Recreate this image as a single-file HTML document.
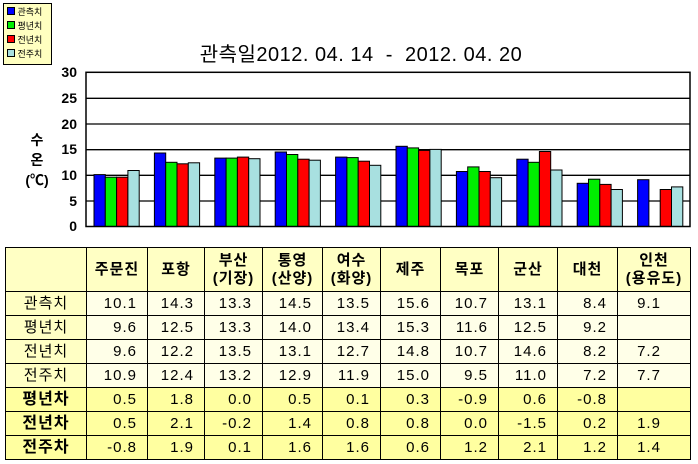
<!DOCTYPE html>
<html><head><meta charset="utf-8"><style>
body{margin:0;width:698px;height:464px;background:#fff;position:relative;overflow:hidden;font-family:"Liberation Sans","Noto Sans CJK KR","NanumGothic",sans-serif}
.abs{position:absolute}
table{position:absolute;left:5px;top:247px;border-collapse:collapse;table-layout:fixed;width:685px}
td{border:1px solid #000;height:24px;line-height:18px;padding:0;font-size:15px;text-align:right;padding-right:10px;letter-spacing:1px;background:#FFFFE8;white-space:nowrap;box-sizing:border-box}
tr.h td{height:44px;background:#FFFFC4;text-align:center;padding:0;font-weight:bold;font-size:15px;line-height:18px}
td.l{background:#FFFFC4;text-align:center;padding:0}
tr.y td{background:#FFFFA0}
tr.y td.l{font-weight:bold;font-size:16px}
</style></head><body>
<div class="abs" style="left:3px;top:3px;width:47px;height:59px;background:#FFFFC0;border:1px solid #000;font-size:9px;line-height:14px;padding-top:1px">
<div style="padding-left:3px"><span style="display:inline-block;width:6px;height:6px;background:#0000ff;border:1px solid #000"></span> 관측치</div>
<div style="padding-left:3px"><span style="display:inline-block;width:6px;height:6px;background:#00ee00;border:1px solid #000"></span> 평년치</div>
<div style="padding-left:3px"><span style="display:inline-block;width:6px;height:6px;background:#ff0000;border:1px solid #000"></span> 전년치</div>
<div style="padding-left:3px"><span style="display:inline-block;width:6px;height:6px;background:#a8e0e0;border:1px solid #000"></span> 전주치</div>
</div>
<div class="abs" style="left:0;width:698px;top:38px;text-align:center;font-size:20px;padding-left:12px;letter-spacing:0.5px">관측일2012. 04. 14 &nbsp;- &nbsp;2012. 04. 20</div>
<div class="abs" style="left:22px;top:130px;width:30px;text-align:center;font-size:14px;font-weight:bold;line-height:20px">수<br>온<br>(℃)</div>
<svg class="abs" style="left:0;top:0" width="698" height="240">
<g font-family="Liberation Sans" font-weight="bold" font-size="14" text-anchor="end">
<text x="77" y="77">30</text><text x="77" y="103">25</text><text x="77" y="129">20</text><text x="77" y="154">15</text><text x="77" y="180">10</text><text x="77" y="206">5</text><text x="77" y="231">0</text>
</g>
<g stroke="#000" stroke-width="1.3">
<line x1="86" y1="98.3" x2="690" y2="98.3"/><line x1="86" y1="124" x2="690" y2="124"/><line x1="86" y1="149.7" x2="690" y2="149.7"/><line x1="86" y1="175.3" x2="690" y2="175.3"/><line x1="86" y1="201" x2="690" y2="201"/>
</g>
<g id="bars" stroke="#000" stroke-width="1"></g>
<rect x="86" y="72.3" width="604" height="154.2" fill="none" stroke="#000" stroke-width="1.5"/>
</svg>
<script>
var d=[[10.1,9.6,9.6,10.9],[14.3,12.5,12.2,12.4],[13.3,13.3,13.5,13.2],[14.5,14.0,13.1,12.9],[13.5,13.4,12.7,11.9],[15.6,15.3,14.8,15.0],[10.7,11.6,10.7,9.5],[13.1,12.5,14.6,11.0],[8.4,9.2,8.2,7.2],[9.1,null,7.2,7.7]];
var c=["#0000ff","#00ee00","#ff0000","#a8e0e0"],s="";
for(var i=0;i<10;i++)for(var j=0;j<4;j++){var v=d[i][j];if(v==null)continue;var h=v*5.14;var x=94+i*60.4+j*11.3;s+='<rect x="'+x.toFixed(1)+'" y="'+(226.5-h).toFixed(1)+'" width="11.3" height="'+h.toFixed(1)+'" fill="'+c[j]+'"/>';}
document.getElementById("bars").innerHTML=s;
</script>
<table>
<colgroup><col style="width:81px"><col style="width:61px"><col style="width:57px"><col style="width:58px"><col style="width:60px"><col style="width:58px"><col style="width:60px"><col style="width:58px"><col style="width:59px"><col style="width:60px"><col style="width:73px"></colgroup>
<tr class="h"><td></td><td>주문진</td><td>포항</td><td>부산<br>(기장)</td><td>통영<br>(산양)</td><td>여수<br>(화양)</td><td>제주</td><td>목포</td><td>군산</td><td>대천</td><td>인천<br>(용유도)</td></tr>
<tr><td class="l">관측치</td><td>10.1</td><td>14.3</td><td>13.3</td><td>14.5</td><td>13.5</td><td>15.6</td><td>10.7</td><td>13.1</td><td>8.4</td><td style="text-align:center">9.1</td></tr>
<tr><td class="l">평년치</td><td>9.6</td><td>12.5</td><td>13.3</td><td>14.0</td><td>13.4</td><td>15.3</td><td>11.6</td><td>12.5</td><td>9.2</td><td></td></tr>
<tr><td class="l">전년치</td><td>9.6</td><td>12.2</td><td>13.5</td><td>13.1</td><td>12.7</td><td>14.8</td><td>10.7</td><td>14.6</td><td>8.2</td><td style="text-align:center">7.2</td></tr>
<tr><td class="l">전주치</td><td>10.9</td><td>12.4</td><td>13.2</td><td>12.9</td><td>11.9</td><td>15.0</td><td>9.5</td><td>11.0</td><td>7.2</td><td style="text-align:center">7.7</td></tr>
<tr class="y"><td class="l">평년차</td><td>0.5</td><td>1.8</td><td>0.0</td><td>0.5</td><td>0.1</td><td>0.3</td><td>-0.9</td><td>0.6</td><td>-0.8</td><td></td></tr>
<tr class="y"><td class="l">전년차</td><td>0.5</td><td>2.1</td><td>-0.2</td><td>1.4</td><td>0.8</td><td>0.8</td><td>0.0</td><td>-1.5</td><td>0.2</td><td style="text-align:center">1.9</td></tr>
<tr class="y"><td class="l">전주차</td><td>-0.8</td><td>1.9</td><td>0.1</td><td>1.6</td><td>1.6</td><td>0.6</td><td>1.2</td><td>2.1</td><td>1.2</td><td style="text-align:center">1.4</td></tr>
</table>
</body></html>
